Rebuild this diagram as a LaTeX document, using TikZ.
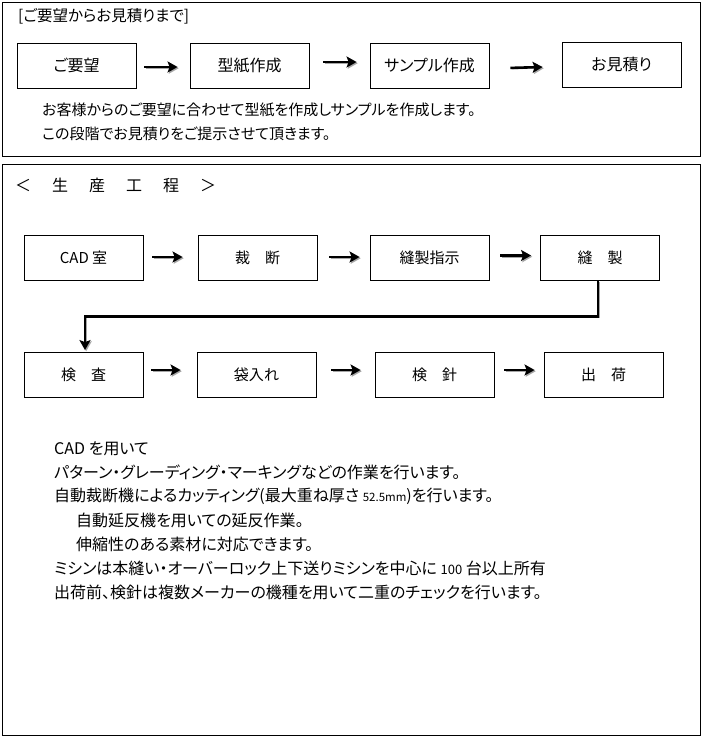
\documentclass[tikz,border=0pt]{standalone}
\usepackage{fontspec}
\setmainfont{Noto Sans CJK JP}[RawFeature={+palt}]
\usetikzlibrary{arrows.meta}
\begin{document}
\begin{tikzpicture}[x=1pt,y=-1pt,
  frame/.style={draw, line width=1pt},
  box/.style={draw, line width=0.8pt, minimum width=119pt, minimum height=45pt, inner sep=0pt},
  tbox/.style={box, font=\fontsize{16}{16}\selectfont},
  bbox/.style={box, font=\fontsize{15}{15}\selectfont},
  arr/.style={line width=2.6pt, -{Stealth[length=10pt,width=11pt,inset=2pt]},
    preaction={draw=black!35, transform canvas={xshift=1.2pt,yshift=-1.2pt}}},
  txt/.style={anchor=west, inner sep=0pt, font=\fontsize{16}{16}\selectfont}]
\useasboundingbox (0,0) rectangle (702,737);
% frames
\draw[frame] (2,2) rectangle (700,156);
\draw[frame] (2,164) rectangle (700,735);
% top section
\node[txt, font=\fontsize{15.5}{15.5}\selectfont] (ttl) at (18,16) {[ご要望からお見積りまで]};
\node[tbox] (a1) at (76.5,65.5) {ご要望};
\node[tbox] (a2) at (249.5,65.5) {型紙作成};
\node[tbox] (a3) at (429.5,65.5) {サンプル作成};
\node[tbox] (a4) at (621.5,64.5) {お見積り};
\draw[arr, shorten <=8pt, shorten >=12pt] ([yshift=-1.5pt]a1.east) -- ([yshift=-1.5pt]a2.west);
\draw[arr, shorten <=14pt, shorten >=13pt] ([yshift=3.5pt]a2.east) -- ([yshift=3.5pt]a3.west);
\draw[arr, shorten <=21pt, shorten >=19pt] ([yshift=-3pt]a3.east) -- ([yshift=-2pt]a4.west);
\node[txt, font=\fontsize{15}{15}\selectfont] (t1) at (42,110) {お客様からのご要望に合わせて型紙を作成しサンプルを作成します。};
\node[txt, font=\fontsize{15}{15}\selectfont] (t2) at (42,134) {この段階でお見積りをご提示させて頂きます。};
% bottom section
\node[txt, font=\fontsize{16}{16}\selectfont] (hd) at (15,185.5) {＜\hspace{21pt}生\hspace{21pt}産\hspace{21pt}工\hspace{21pt}程\hspace{21pt}＞};
\node[bbox] (b1) at (83.5,257.5) {CAD 室};
\node[bbox] (b2) at (257.5,257.5) {裁　断};
\node[bbox] (b3) at (429.5,257.5) {縫製指示};
\node[bbox] (b4) at (600,257.5) {縫　製};
\node[bbox] (c1) at (83.5,375) {検　査};
\node[bbox] (c2) at (256.5,375) {袋入れ};
\node[bbox] (c3) at (434.5,375) {検　針};
\node[bbox] (c4) at (603.5,375) {出　荷};
\draw[arr, shorten <=9pt, shorten >=15pt] ([yshift=0.5pt]b1.east) -- ([yshift=0.5pt]b2.west);
\draw[arr, shorten <=12pt, shorten >=10pt] ([yshift=0.5pt]b2.east) -- ([yshift=0.5pt]b3.west);
\draw[arr, shorten <=11pt, shorten >=9pt] ([yshift=2pt]b3.east) -- ([yshift=2pt]b4.west);
\draw[arr, shorten >=2pt] ([xshift=-2pt]b4.south) -- ++(0,36) -| ([xshift=1.5pt]c1.north);
\draw[arr, shorten <=8pt, shorten >=16pt] ([yshift=5pt]c1.east) -- ([yshift=5pt]c2.west);
\draw[arr, shorten <=15pt, shorten >=14pt] ([yshift=5pt]c2.east) -- ([yshift=5pt]c3.west);
\draw[arr, shorten <=10pt, shorten >=9pt] ([yshift=5pt]c3.east) -- ([yshift=5pt]c4.west);
% description
\node[txt] (d1) at (54,449) {CAD を用いて};
\node[txt] (d2) at (54,472) {パターン・グレーディング・マーキングなどの作業を行います。};
\node[txt] (d3) at (54,496) {自動裁断機によるカッティング(最大重ね厚さ {\fontsize{11.5}{11.5}\selectfont 52.5mm})を行います。};
\node[txt] (d4) at (76,520) {自動延反機を用いての延反作業。};
\node[txt] (d5) at (76,544) {伸縮性のある素材に対応できます。};
\node[txt] (d6) at (54,568) {ミシンは本縫い・オーバーロック上下送りミシンを中心に {\fontsize{13}{13}\selectfont 100} 台以上所有};
\node[txt] (d7) at (54,592) {出荷前、検針は複数メーカーの機種を用いて二重のチェックを行います。};
\end{tikzpicture}
\end{document}
